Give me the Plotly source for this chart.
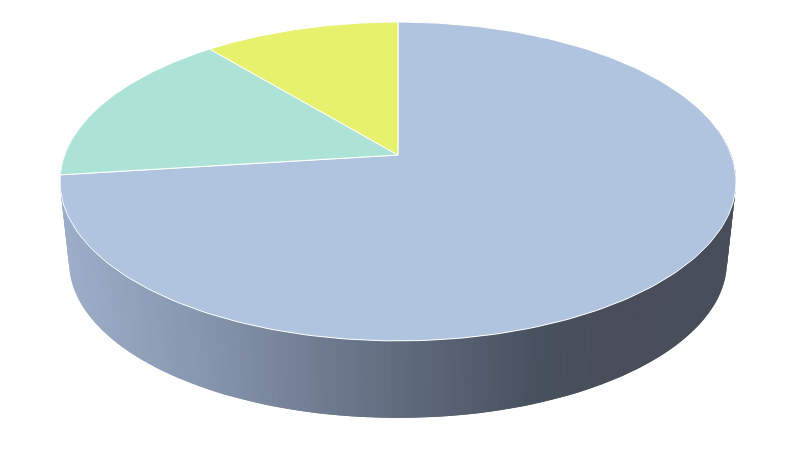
"""
Perspective 3D pie drawn with filled scatter polygons.
"""

import numpy as np
import plotly.graph_objects as go

# slices, clockwise from 12 o'clock
labels = ["A", "B", "C"]
values = [73, 16, 11]
colors = ["#b0c3df", "#ade3d6", "#e7f16d"]

# wall shading, left to right across the chart
wall_x = [60, 200, 340, 450, 540, 600, 736]
wall_r = [158, 136, 108, 88, 71, 73, 72]
wall_g = [175, 151, 120, 98, 81, 78, 79]
wall_b = [201, 176, 140, 115, 94, 90, 90]

# projection of the unit circle, in pixels of the 800x450 page
CX, CY = 398, 155
WIDE = 333.3
TALL = 129.3
TILT = 0.166
ELLIPSE_MID = 181.5
WALL_MID = 262
WALL_SCALE_X = 0.973
WALL_SCALE_Y = 0.978


def top_face(theta):
    """Project an angle (clockwise from 12 o'clock) onto the top face."""
    u, v = np.sin(theta), np.cos(theta)
    w = 1 + TILT * v
    return CX + WIDE * u / w, (CY - TALL * v) / w


def bottom_face(theta):
    x, y = top_face(theta)
    return CX + (x - CX) * WALL_SCALE_X, WALL_MID + (y - ELLIPSE_MID) * WALL_SCALE_Y


fig = go.Figure()

# outer wall: strips drawn left to right, each one lapping under the next so
# no seams show
edges = np.radians(np.linspace(280, 80, 201))
for t0, t1 in zip(edges[:-2], edges[2:]):
    x0, y0 = top_face(t0)
    x1, y1 = top_face(t1)
    x2, y2 = bottom_face(t1)
    x3, y3 = bottom_face(t0)
    mid = (x0 + x1 + x2 + x3) / 4
    shade = "rgb({:.0f},{:.0f},{:.0f})".format(
        np.interp(mid, wall_x, wall_r),
        np.interp(mid, wall_x, wall_g),
        np.interp(mid, wall_x, wall_b),
    )
    fig.add_trace(go.Scatter(
        x=[x0, x1, x2, x3, x0], y=[y0, y1, y2, y3, y0],
        mode="lines", fill="toself", fillcolor=shade,
        line=dict(width=0), hoverinfo="skip",
    ))

# top face
bounds = np.cumsum([0] + values) / sum(values) * 2 * np.pi
for i, label in enumerate(labels):
    arc = np.linspace(bounds[i], bounds[i + 1], 240)
    ax, ay = top_face(arc)
    fig.add_trace(go.Scatter(
        x=np.r_[CX, ax, CX], y=np.r_[CY, ay, CY],
        mode="lines", fill="toself", fillcolor=colors[i],
        line=dict(color="white", width=1), name=label, hoverinfo="name",
    ))

fig.update_layout(
    width=800, height=450,
    margin=dict(l=0, r=0, t=0, b=0),
    paper_bgcolor="white", plot_bgcolor="white",
    showlegend=False,
    xaxis=dict(range=[0, 800], visible=False, fixedrange=True),
    yaxis=dict(range=[450, 0], visible=False, fixedrange=True),
)

# the page's default body margin would push the plot 8px off
fig.write_html(
    "out.html",
    config={"displayModeBar": False},
    post_script="document.body.style.margin = '0';",
)
